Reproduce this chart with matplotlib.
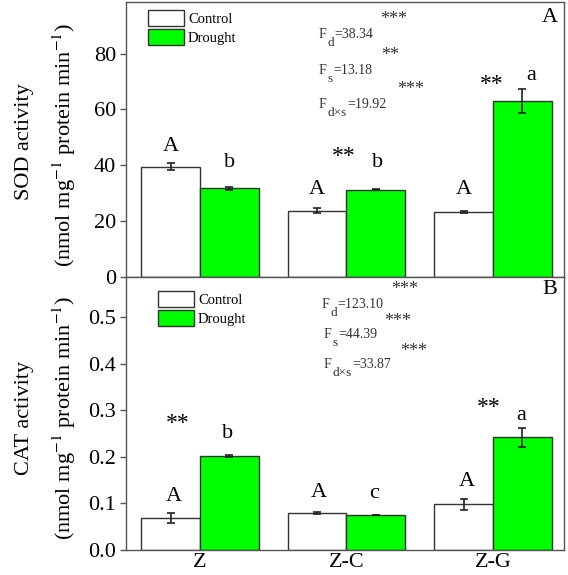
import matplotlib
matplotlib.use("Agg")
import matplotlib.pyplot as plt
import numpy as np
from matplotlib.patches import Patch

plt.rcParams['font.family'] = ['Liberation Serif', 'DejaVu Serif']
plt.rcParams['mathtext.fontset'] = 'stix'

groups = ["Z", "Z-C", "Z-G"]
sod_control = [39.5, 23.8, 23.4]
sod_control_err = [1.2, 1.0, 0.3]
sod_drought = [31.7, 31.2, 62.9]
sod_drought_err = [0.6, 0.2, 4.3]
cat_control = [0.068, 0.079, 0.098]
cat_control_err = [0.011, 0.002, 0.012]
cat_drought = [0.202, 0.075, 0.242]
cat_drought_err = [0.002, 0.0, 0.020]

GREEN = '#00FF00'
EDGE = '#333333'
W, H = 568, 575
fig = plt.figure(figsize=(W / 100, H / 100), dpi=100)
renderer = fig.canvas.get_renderer()

def px_axes(x0, y0, x1, y1):
    return fig.add_axes([x0 / W, 1 - y1 / H, (x1 - x0) / W, (y1 - y0) / H])

ax1 = px_axes(126, 2, 564, 277)
ax2 = px_axes(126, 277, 564, 550)

x = np.arange(1, len(groups) + 1)
bw = 0.4

def draw(ax, c, ce, d, de):
    ax.bar(x - bw / 2, c, bw, color='white', edgecolor=EDGE, linewidth=1.0, zorder=2)
    ax.bar(x + bw / 2, d, bw, color=GREEN, edgecolor=EDGE, linewidth=1.0, zorder=2)
    ax.errorbar(x - bw / 2, c, yerr=ce, fmt='none', ecolor='#222222', elinewidth=1.2, capsize=3, capthick=1.2, zorder=3)
    ax.errorbar(x + bw / 2, d, yerr=de, fmt='none', ecolor='#222222', elinewidth=1.2, capsize=3, capthick=1.2, zorder=3)
    ax.set_xlim(0.495, 3.485)
    for s in ax.spines.values():
        s.set_color('#555555')
        s.set_linewidth(1.0)
    ax.tick_params(axis='y', direction='out', length=4, width=1, labelsize=16, color='#555555', pad=3)

draw(ax1, sod_control, sod_control_err, sod_drought, sod_drought_err)
draw(ax2, cat_control, cat_control_err, cat_drought, cat_drought_err)

ax1.set_ylim(0, 98.5)
ax1.set_yticks([0, 20, 40, 60, 80])
ax1.set_xticks([])
ax2.set_ylim(0, 0.586)
ax2.set_yticks([0.0, 0.1, 0.2, 0.3, 0.4, 0.5])
ax2.set_yticklabels(['0.0', '0.1', '0.2', '0.3', '0.4', '0.5'])
ax2.set_xticks(x)
ax2.set_xticklabels(groups, fontsize=16)
ax2.tick_params(axis='x', length=0, pad=2)

# letters / significance annotations (x data, y data, text)
ann1 = [(0.80, 46.6, 'A'), (1.20, 40.9, 'b'), (1.80, 31.2, 'A'), (1.98, 43.2, '**'),
        (2.21, 40.9, 'b'), (2.80, 31.2, 'A'), (2.99, 69.0, '**'), (3.26, 72.1, 'a')]
ann2 = [(0.85, 0.272, '**'), (1.19, 0.249, 'b'), (0.82, 0.114, 'A'), (1.81, 0.124, 'A'),
        (2.19, 0.122, 'c'), (2.82, 0.146, 'A'), (2.97, 0.306, '**'), (3.19, 0.288, 'a')]
for xx, yy, t in ann1:
    ax1.text(xx, yy, t, ha='center', va='center', fontsize=16 if t != '**' else 17)
for xx, yy, t in ann2:
    ax2.text(xx, yy, t, ha='center', va='center', fontsize=16 if t != '**' else 17)

def fig_text_px(px, py, s, fs, va='baseline'):
    t = fig.text(px / W, 1 - py / H, s, ha='left', va=va, fontsize=fs, color='#333333')
    return t.get_window_extent(renderer).width

def fstat(px, py, sub, val, fs=10):
    # py: baseline of "F" (pixels from top)
    w = fig_text_px(px, py, 'F', fs)
    w2 = fig_text_px(px + w + 0.5, py + 8, sub, fs - 0.5)
    fig_text_px(px + w + w2 + 1, py + 0.5, '=' + val, fs)

def stars(px, py, s):
    fig.text(px / W, 1 - py / H, s, ha='left', va='center', fontsize=13, color='#333333')

# top F stats
fstat(319, 38, 'd', '38.34')
stars(380, 19, '***')
fstat(319, 74, 's', '13.18')
stars(381, 55, '**')
fstat(319, 108, 'd\u00d7s', '19.92')
stars(397, 90, '***')
# bottom F stats
fstat(322, 308, 'd', '123.10')
stars(391, 290, '***')
fstat(324, 338, 's', '44.39')
stars(384, 321, '***')
fstat(324, 368, 'd\u00d7s', '33.87')
stars(400, 351, '***')

# panel labels
ax1.text(0.985, 0.945, 'A', transform=ax1.transAxes, ha='right', va='center', fontsize=16)
ax2.text(0.985, 0.955, 'B', transform=ax2.transAxes, ha='right', va='center', fontsize=16)

# legends
h = [Patch(facecolor='white', edgecolor=EDGE, label='Control'),
     Patch(facecolor=GREEN, edgecolor=EDGE, label='Drought')]
for ax, (lx, ly), (top, hgt) in ((ax1, (148, 10), (2, 275)), (ax2, (158, 291), (277, 273))):
    ax.legend(handles=h, loc='upper left', bbox_to_anchor=((lx - 126) / 438, 1 - (ly - top) / hgt),
              frameon=False, fontsize=10.5, handlelength=2.45, handleheight=1.3, handletextpad=0.3,
              labelspacing=0.2, borderaxespad=0, borderpad=0)

# y labels
fig.text(24 / W, 1 - 142 / H, 'SOD activity', rotation=90, ha='center', va='center', fontsize=16)
fig.text(64 / W, 1 - 145 / H, r'(nmol mg$^{-1}$ protein min$^{-1}$)', rotation=90, ha='center', va='center', fontsize=16)
fig.text(24 / W, 1 - 418 / H, 'CAT activity', rotation=90, ha='center', va='center', fontsize=16)
fig.text(64 / W, 1 - 418 / H, r'(nmol mg$^{-1}$ protein min$^{-1}$)', rotation=90, ha='center', va='center', fontsize=16)

fig.savefig('out.png', dpi=100)
